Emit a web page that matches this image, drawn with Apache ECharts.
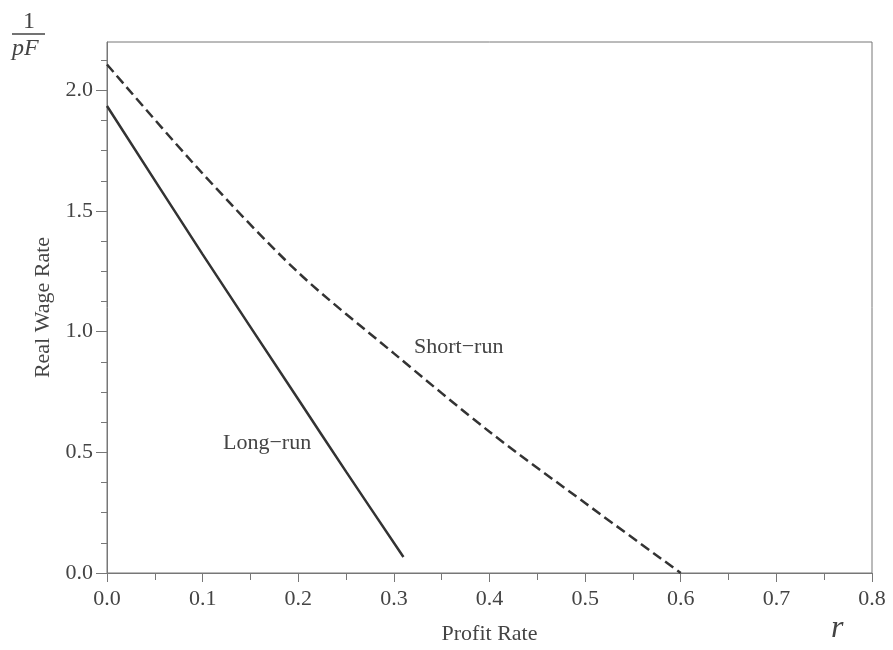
<!DOCTYPE html>
<html>
<head>
<meta charset="utf-8">
<script src="https://cdn.jsdelivr.net/npm/echarts@6/dist/echarts.min.js"></script>
<style>
html,body{margin:0;padding:0;background:#fff;}
#c{width:893px;height:650px;}
</style>
</head>
<body>
<div id="c"></div>
<script>
// Data
const longRunR    = [0.000, 0.100, 0.200, 0.250, 0.310];
const longRunW    = [1.935, 1.320, 0.720, 0.420, 0.066];
const shortRunR   = [0.000, 0.100, 0.200, 0.300, 0.400, 0.500, 0.600];
const shortRunW   = [2.107, 1.655, 1.245, 0.910, 0.585, 0.290, 0.000];
const yMajorTicks = [0, 0.5, 1.0, 1.5, 2.0];
const yMinorTicks = [0.125, 0.25, 0.375, 0.625, 0.75, 0.875, 1.125, 1.25, 1.375, 1.625, 1.75, 1.875, 2.125];
const xTickLabels = [0, 0.1, 0.2, 0.3, 0.4, 0.5, 0.6, 0.7, 0.8];

const FONT = '"Liberation Serif", "DejaVu Serif", serif';
const TXT = '#444';
const AX = '#777';
const LINE = '#333';

function pairs(xs, ys) { return xs.map((x, i) => [x, ys[i]]); }

const chart = echarts.init(document.getElementById('c'), null, {renderer: 'canvas'});
chart.setOption({
  backgroundColor: '#fff',
  animation: false,
  grid: {left: 107, right: 21, top: 42, bottom: 75, show: true, borderColor: AX, borderWidth: 1, backgroundColor: 'transparent'},
  xAxis: [{
    type: 'value', min: 0, max: 0.8, interval: 0.1, position: 'bottom',
    name: 'Profit Rate', nameLocation: 'middle', nameGap: 50,
    nameTextStyle: {fontFamily: FONT, fontSize: 22, color: TXT},
    axisLine: {show: true, lineStyle: {color: AX, width: 1}},
    axisTick: {show: true, length: 9, lineStyle: {color: AX}},
    minorTick: {show: true, splitNumber: 2, length: 7, lineStyle: {color: AX}},
    axisLabel: {customValues: xTickLabels, fontFamily: FONT, fontSize: 22, color: TXT, margin: 15, formatter: v => v.toFixed(1)},
    splitLine: {show: false}, minorSplitLine: {show: false}
  }],
  yAxis: [{
    type: 'value', min: 0, max: 2.2, position: 'left',
    name: 'Real Wage Rate', nameLocation: 'middle', nameGap: 44, nameRotate: 90,
    nameTextStyle: {fontFamily: FONT, fontSize: 22, color: TXT},
    axisLine: {show: true, lineStyle: {color: AX, width: 1}},
    axisTick: {show: true, length: 11, customValues: yMajorTicks, lineStyle: {color: AX}},
    axisLabel: {customValues: yMajorTicks, fontFamily: FONT, fontSize: 22, color: TXT, margin: 14, formatter: v => v.toFixed(1)},
    splitLine: {show: false}
  }, {
    type: 'value', min: 0, max: 2.2, position: 'left', offset: 0,
    axisLine: {show: false},
    axisTick: {show: true, length: 6, customValues: yMinorTicks, lineStyle: {color: AX}},
    axisLabel: {show: false},
    splitLine: {show: false}
  }],
  series: [{
    type: 'line', name: 'Long-run', data: pairs(longRunR, longRunW),
    showSymbol: false, smooth: 0.3,
    lineStyle: {color: LINE, width: 2.5, type: 'solid'}
  }, {
    type: 'line', name: 'Short-run', data: pairs(shortRunR, shortRunW),
    showSymbol: false, smooth: 0.3,
    lineStyle: {color: LINE, width: 2.5, type: [10, 5]}
  }],
  graphic: [
    {type: 'text', left: 414, top: 336, style: {text: 'Short\u2212run', font: '22px ' + FONT, fill: TXT}},
    {type: 'text', left: 223, top: 432, style: {text: 'Long\u2212run', font: '22px ' + FONT, fill: TXT}},
    {type: 'text', left: 831, top: 613, style: {text: 'r', font: 'italic 32px ' + FONT, fill: TXT}},
    {type: 'text', left: 23, top: 10, style: {text: '1', font: '24px ' + FONT, fill: TXT}},
    {type: 'line', shape: {x1: 12, y1: 34, x2: 45, y2: 34}, style: {stroke: TXT, lineWidth: 1.5}},
    {type: 'text', left: 12, top: 37, style: {text: 'pF', font: 'italic 24px ' + FONT, fill: TXT}}
  ]
});
</script>
</body>
</html>
